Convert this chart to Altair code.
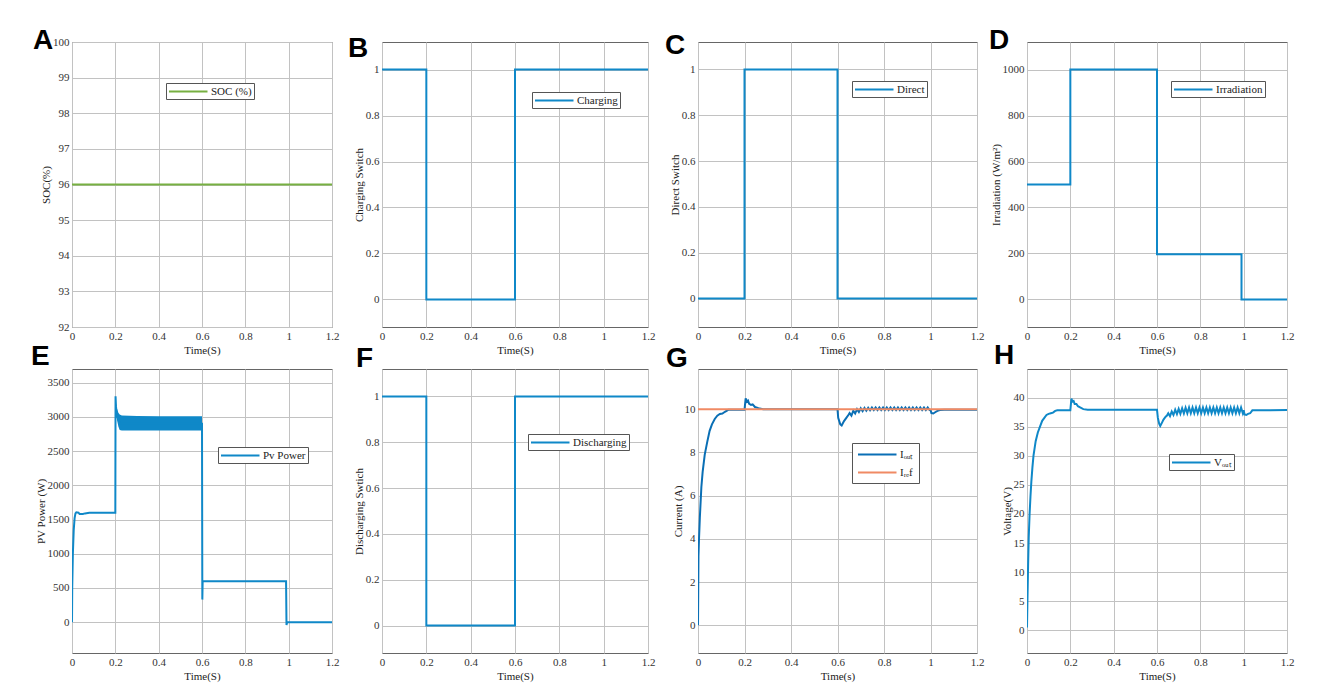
import altair as alt
import pandas as pd

X_TICKS = [0, 0.2, 0.4, 0.6, 0.8, 1.0, 1.2]

BLUE = "#0F88C8"
DARK_BLUE = "#0A6FB5"
GREEN = "#77B041"
ORANGE = "#F08A64"

# ---- A: state of charge
soc_t = [0.0, 1.2]
soc_v = [96.0, 96.0]

# ---- B: charging switch
chg_t = [0.0, 0.2, 0.2, 0.6, 0.6, 1.2]
chg_v = [1, 1, 0, 0, 1, 1]

# ---- C: direct switch
dir_t = [0.0, 0.2, 0.2, 0.6, 0.6, 1.2]
dir_v = [0, 0, 1, 1, 0, 0]

# ---- D: irradiation
irr_t = [0.0, 0.2, 0.2, 0.6, 0.6, 0.99, 0.99, 1.2]
irr_v = [500, 500, 1000, 1000, 197, 197, 0, 0]

# ---- E: PV power
pv_t = [0.0, 0.001, 0.004, 0.008, 0.012, 0.016, 0.02, 0.03, 0.035, 0.05, 0.06, 0.08, 0.2,
        0.2, 0.201, 0.203, 0.206, 0.21, 0.215, 0.22, 0.3, 0.4, 0.5, 0.6,
        0.6, 0.6015, 0.603, 0.7, 0.8, 0.9, 0.988,
        0.988, 0.99, 0.993, 1.1, 1.2]
pv_v = [0, 500, 1000, 1350, 1520, 1590, 1605, 1600, 1580, 1582, 1590, 1600, 1600,
        1600, 3300, 3150, 3060, 3000, 2950, 2900, 2900, 2900, 2900, 2900,
        2900, 330, 600, 600, 600, 600, 600,
        600, -40, 0, 0, 0]
pv_band_t = [0.203, 0.208, 0.214, 0.22, 0.23, 0.3, 0.4, 0.5, 0.6]
pv_band_lo = [3050, 2950, 2860, 2810, 2800, 2800, 2800, 2800, 2800]
pv_band_hi = [3200, 3120, 3060, 3035, 3020, 3015, 3010, 3010, 3010]

# ---- F: discharging switch
dis_t = [0.0, 0.2, 0.2, 0.6, 0.6, 1.2]
dis_v = [1, 1, 0, 0, 1, 1]

# ---- G: output current and reference
iout_t = [0.0, 0.002, 0.004, 0.008, 0.0145, 0.02, 0.029, 0.04, 0.05, 0.06, 0.072, 0.083,
          0.094, 0.105, 0.116, 0.13, 0.2,
          0.205, 0.21, 0.215, 0.22, 0.228, 0.235, 0.245, 0.26, 0.28, 0.6,
          0.603, 0.612, 0.618, 0.628, 0.638, 0.646,
          0.652, 0.660, 0.668, 0.676, 0.684, 0.692, 0.700, 0.708, 0.716, 0.724, 0.732, 0.740,
          0.748, 0.756, 0.764, 0.772, 0.780, 0.788, 0.796, 0.804, 0.812, 0.820, 0.828, 0.836,
          0.844, 0.852, 0.860, 0.868, 0.876, 0.884, 0.892, 0.900, 0.908, 0.916, 0.924, 0.932,
          0.940, 0.948, 0.956, 0.964, 0.972, 0.980, 0.988, 0.996,
          1.0, 1.004, 1.012, 1.02, 1.03, 1.04, 1.06, 1.2]
iout_v = [0.0, 3.2, 3.9, 5.0, 6.4, 7.1, 7.9, 8.5, 9.0, 9.3, 9.55, 9.7,
          9.78, 9.8, 9.88, 9.97, 9.97,
          10.5, 10.35, 10.4, 10.25, 10.2, 10.22, 10.1, 10.05, 10.0, 10.0,
          9.6, 9.3, 9.25, 9.45, 9.6, 9.72,
          9.82, 9.70, 9.93, 9.80, 10.0, 9.87, 10.04, 9.91, 10.06, 9.93, 10.07, 9.95,
          10.08, 9.96, 10.08, 9.96, 10.08, 9.96, 10.08, 9.96, 10.08, 9.96, 10.08, 9.96,
          10.08, 9.96, 10.08, 9.96, 10.08, 9.96, 10.08, 9.96, 10.08, 9.96, 10.08, 9.96,
          10.08, 9.96, 10.08, 9.96, 10.08, 9.96, 10.08, 9.96,
          9.96, 9.82, 9.80, 9.86, 9.92, 9.96, 9.98, 9.98]
iref_t = [0.0, 1.2]
iref_v = [10.0, 10.0]

# ---- H: output voltage
vout_t = [0.0, 0.002, 0.005, 0.008, 0.012, 0.016, 0.02, 0.025, 0.03, 0.04, 0.05, 0.06, 0.07,
          0.08, 0.09, 0.1, 0.11, 0.12, 0.13, 0.14, 0.2,
          0.205, 0.21, 0.215, 0.22, 0.228, 0.235, 0.245, 0.26, 0.28, 0.6,
          0.604, 0.61, 0.615, 0.622, 0.63, 0.64, 0.646,
          0.652, 0.660, 0.668, 0.676, 0.684, 0.692, 0.700, 0.708, 0.716, 0.724, 0.732, 0.740,
          0.748, 0.756, 0.764, 0.772, 0.780, 0.788, 0.796, 0.804, 0.812, 0.820, 0.828, 0.836,
          0.844, 0.852, 0.860, 0.868, 0.876, 0.884, 0.892, 0.900, 0.908, 0.916, 0.924, 0.932,
          0.940, 0.948, 0.956, 0.964, 0.972, 0.980, 0.988, 0.996,
          1.0, 1.004, 1.012, 1.02, 1.03, 1.04, 1.06, 1.2]
vout_v = [0.5, 5.0, 11.0, 16.0, 20.0, 23.0, 25.5, 28.0, 30.0, 32.5, 34.0, 35.0, 36.0,
          36.5, 37.0, 37.2, 37.3, 37.4, 37.7, 37.8, 37.8,
          39.8, 39.3, 39.4, 38.9, 38.9, 38.5, 38.3, 38.0, 37.9, 37.9,
          36.5, 35.5, 35.1, 35.6, 36.2, 36.7, 36.9,
          37.3, 36.8, 37.6, 37.0, 37.9, 37.15, 38.05, 37.2, 38.15, 37.25, 38.25, 37.3,
          38.3, 37.3, 38.3, 37.3, 38.3, 37.3, 38.3, 37.3, 38.3, 37.3, 38.3, 37.3,
          38.3, 37.3, 38.3, 37.3, 38.3, 37.3, 38.3, 37.3, 38.3, 37.3, 38.3, 37.3,
          38.3, 37.3, 38.3, 37.3, 38.3, 37.3, 38.3, 37.3,
          37.8, 37.1, 37.0, 37.2, 37.3, 37.8, 37.8, 37.85]


def panel(letter, lines, y_dom, y_vals, y_title, x_title, w, h, leg, let_dx, let_off,
          y_fmt="~f", band=None, leg_pad=2, row_pad=6):
    labels = [l[0] for l in lines]
    colors = [l[3] for l in lines]
    xenc = alt.X("t:Q", scale=alt.Scale(domain=[0, 1.2], nice=False, zero=False),
                 axis=alt.Axis(values=X_TICKS, format="~f", title=x_title, titlePadding=3))
    yenc = alt.Y("v:Q", scale=alt.Scale(domain=y_dom, nice=False, zero=False),
                 axis=alt.Axis(values=y_vals, format=y_fmt, title=y_title))
    cscale = alt.Scale(domain=labels, range=colors)
    legend = alt.Legend(orient="none", legendX=leg[0], legendY=leg[1], title=None,
                        fillColor="white", strokeColor="#555555", padding=leg_pad,
                        symbolType="M-1,0H6", symbolSize=121, symbolStrokeWidth=2,
                        labelOffset=30, rowPadding=row_pad)
    layers = []
    if band is not None:
        bdf = pd.DataFrame({"t": band[0], "v": band[1], "v2": band[2]})
        layers.append(alt.Chart(bdf).mark_area(color=band[3], opacity=1, clip=True)
                      .encode(x=xenc, y=yenc, y2="v2:Q"))
    for lab, tt, vv, col in lines:
        df = pd.DataFrame({"t": tt, "v": vv, "s": lab, "o": list(range(len(tt)))})
        layers.append(alt.Chart(df).mark_line(strokeWidth=2, clip=True).encode(
            x=xenc, y=yenc,
            color=alt.Color("s:N", scale=cscale, legend=legend),
            order="o:Q"))
    return alt.layer(*layers).properties(
        width=w, height=h,
        title=alt.TitleParams(text=letter, anchor="start", frame="group", align="left",
                              baseline="alphabetic", dx=let_dx, offset=let_off,
                              fontSize=28, font="Liberation Sans", fontWeight="bold",
                              color="black"))


W = [260, 266, 279, 260]
H_TOP, H_BOT = 285, 284
SW = [0, 0.2, 0.4, 0.6, 0.8, 1.0]

pA = panel("A", [("SOC (%)", soc_t, soc_v, GREEN)], [92, 100], list(range(92, 101)),
           "SOC(%)", "Time(S)", W[0], H_TOP, (94, 41), -39, -41)
pB = panel("B", [("Charging", chg_t, chg_v, BLUE)], [-0.12, 1.12], SW,
           "Charging Switch", "Time(S)", W[1], H_TOP, (150, 50), -34, -43)
pC = panel("C", [("Direct", dir_t, dir_v, BLUE)], [-0.124, 1.12], SW,
           "Direct Switch", "Time(S)", W[2], H_TOP, (154, 39), -33, -40)
pD = panel("D", [("Irradiation", irr_t, irr_v, BLUE)], [-120, 1120], [0, 200, 400, 600, 800, 1000],
           "Irradiation (W/m²)", "Time(S)", W[3], H_TOP, (144, 39), -38, -35, y_fmt="d")
pE = panel("E", [("Pv Power", pv_t, pv_v, BLUE)], [-450, 3700], [0, 500, 1000, 1500, 2000, 2500, 3000, 3500],
           "PV Power (W)", "Time(S)", W[0], H_BOT, (146, 78), -41, -24, y_fmt="d",
           band=(pv_band_t, pv_band_lo, pv_band_hi, BLUE))
pF = panel("F", [("Discharging", dis_t, dis_v, BLUE)], [-0.12, 1.12], SW,
           "Discharging Swtich", "Time(S)", W[1], H_BOT, (146, 65), -26, -26)
pG = panel("G", [("Iₒᵤₜ", iout_t, iout_v, DARK_BLUE), ("Iᵣₑf", iref_t, iref_v, ORANGE)],
           [-1.28, 11.86], [0, 2, 4, 6, 8, 10],
           "Current (A)", "Time(s)", W[2], H_BOT, (154, 74), -32, -26, leg_pad=5)
pH = panel("H", [("Vₒᵤₜ", vout_t, vout_v, BLUE)], [-3.9, 44.9], [0, 5, 10, 15, 20, 25, 30, 35, 40],
           "Voltage(V)", "Time(S)", W[3], H_BOT, (142, 85), -33, -23)

chart = alt.concat(pA, pB, pC, pD, pE, pF, pG, pH, columns=4,
                   spacing={"row": 42, "column": 50}, bounds="flush", align="each"
                   ).resolve_scale(color="independent", x="independent", y="independent"
                   ).resolve_legend(color="independent"
                   ).properties(padding={"left": 22, "top": 18, "right": 5, "bottom": 5}
                   ).configure_view(stroke="#666666", strokeWidth=1
                   ).configure_axis(labelFont="Liberation Serif", labelFontSize=11, labelColor="#333333",
                                    titleFont="Liberation Serif", titleFontSize=11, titleFontWeight="normal",
                                    titleColor="#222222", domain=False, ticks=False,
                                    gridColor="#c2c2c2", gridWidth=1, labelFlush=False,
                                    labelOverlap=False, labelPadding=3, titlePadding=1
                   ).configure_legend(labelFont="Liberation Serif", labelFontSize=11, labelColor="#222222")

chart.save("out.html", embed_options={"renderer": "svg", "actions": False})
